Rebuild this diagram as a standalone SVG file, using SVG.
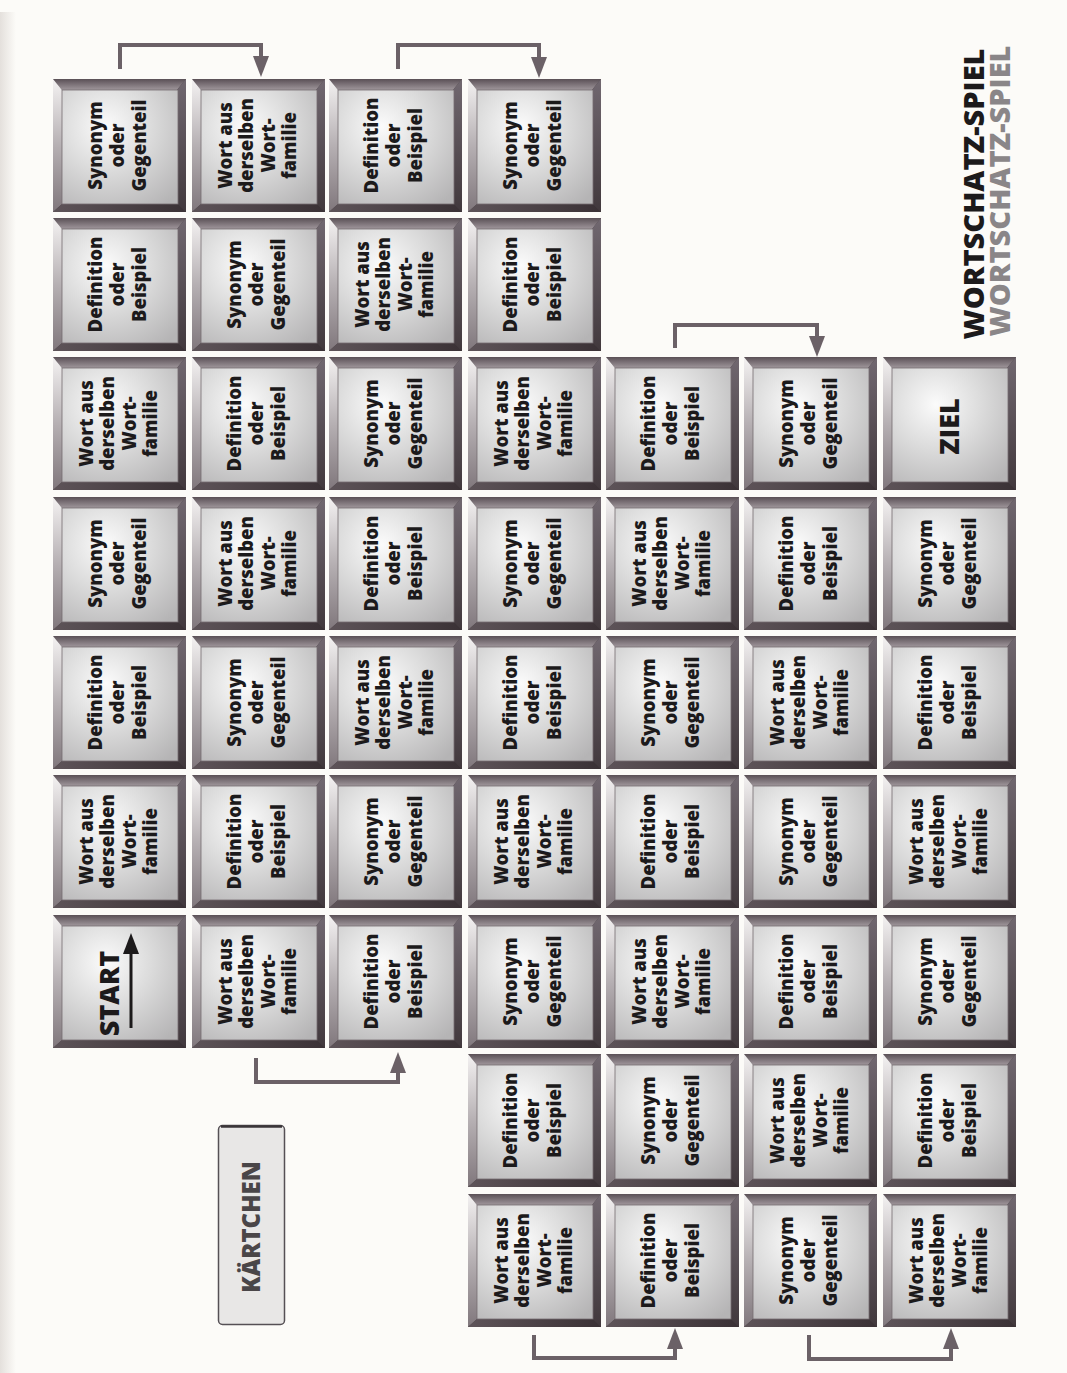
<svg xmlns="http://www.w3.org/2000/svg" xmlns:xlink="http://www.w3.org/1999/xlink" width="1067" height="1373" viewBox="0 0 1067 1373">
<style>
.t{font-family:"Open Sans","Noto Sans","DejaVu Sans",sans-serif;font-weight:800;font-size:18.5px;fill:#1c1a1b;text-anchor:middle}
.big{font-family:"Open Sans","Noto Sans","DejaVu Sans",sans-serif;font-weight:800;font-size:27px;fill:#1c1a1b;text-anchor:middle}
.title{font-family:"Open Sans","Noto Sans","DejaVu Sans",sans-serif;font-weight:800;font-size:29px;text-anchor:middle}
.conn{fill:none;stroke:#6b6167;stroke-width:4;stroke-linejoin:miter}
</style>
<defs>
<linearGradient id="gTop" x1="0" y1="0" x2="0" y2="1"><stop offset="0" stop-color="#5a5056"/><stop offset="1" stop-color="#a0979c"/></linearGradient>
<linearGradient id="gLeft" x1="0" y1="0" x2="0" y2="1"><stop offset="0" stop-color="#f4f2f2"/><stop offset="0.5" stop-color="#b6b0b3"/><stop offset="1" stop-color="#80777c"/></linearGradient>
<linearGradient id="gRight" x1="0" y1="0" x2="0" y2="1"><stop offset="0" stop-color="#716870"/><stop offset="1" stop-color="#41383c"/></linearGradient>
<linearGradient id="gBottom" x1="0" y1="0" x2="1" y2="0"><stop offset="0" stop-color="#5e5459"/><stop offset="1" stop-color="#3a3135"/></linearGradient>
<radialGradient id="gFace" cx="0.38" cy="0.32" r="0.85"><stop offset="0" stop-color="#fbfbfb"/><stop offset="0.45" stop-color="#dcdcdc"/><stop offset="1" stop-color="#b5b4b5"/></radialGradient>
<linearGradient id="gPage" x1="0" y1="0" x2="1" y2="0"><stop offset="0" stop-color="#e4e0dc"/><stop offset="1" stop-color="#fcfbf8"/></linearGradient>
<symbol id="tile" viewBox="0 0 133 133" width="133" height="133">
<rect width="133" height="133" fill="#4a4145"/>
<polygon points="0,0 133,0 124,11 9,11" fill="url(#gTop)"/>
<polygon points="0,0 9,11 9,125 0,133" fill="url(#gLeft)"/>
<polygon points="133,0 133,133 125,125 124,11" fill="url(#gRight)"/>
<polygon points="0,133 133,133 125,125 9,125" fill="url(#gBottom)"/>
<rect x="9" y="11" width="116" height="114" fill="url(#gFace)"/>
<rect x="9" y="11" width="116" height="114" fill="none" stroke="#756d71" stroke-width="0.8"/>
</symbol>
<marker id="ah" markerUnits="userSpaceOnUse" markerWidth="22" markerHeight="18" refX="0" refY="9" orient="auto" viewBox="0 0 22 18">
<path d="M0,1 L21,9 L0,17 z" fill="#6b6167"/>
</marker>
</defs>
<rect width="1067" height="1373" fill="#fcfbf8"/>
<rect x="0" y="12" width="16" height="1361" fill="url(#gPage)"/>

<g id="connectors">
<path class="conn" d="M120,69 V45 H261 V56" marker-end="url(#ah)"/>
<path class="conn" d="M398,69 V45 H539 V57" marker-end="url(#ah)"/>
<path class="conn" d="M675,348 V325 H817 V336" marker-end="url(#ah)"/>
<path class="conn" d="M256,1058 V1082 H398 V1073" marker-end="url(#ah)"/>
<path class="conn" d="M534,1335 V1358 H675 V1349" marker-end="url(#ah)"/>
<path class="conn" d="M809,1335 V1359 H951 V1349" marker-end="url(#ah)"/>
</g>

<!-- Column 1 -->
<g id="c1r1"><use href="#tile" x="53" y="79"/><text class="t" transform="translate(119.5,145.5) rotate(-90)"><tspan x="0" y="-18">Synonym</tspan><tspan x="0" y="4">oder</tspan><tspan x="0" y="26">Gegenteil</tspan></text></g>
<g id="c1r2"><use href="#tile" x="53" y="218"/><text class="t" transform="translate(119.5,284.5) rotate(-90)"><tspan x="0" y="-18">Definition</tspan><tspan x="0" y="4">oder</tspan><tspan x="0" y="26">Beispiel</tspan></text></g>
<g id="c1r3"><use href="#tile" x="53" y="357"/><text class="t" transform="translate(119.5,423.5) rotate(-90)"><tspan x="0" y="-27">Wort aus</tspan><tspan x="0" y="-5.5">derselben</tspan><tspan x="0" y="16">Wort-</tspan><tspan x="0" y="37.5">familie</tspan></text></g>
<g id="c1r4"><use href="#tile" x="53" y="497"/><text class="t" transform="translate(119.5,563.5) rotate(-90)"><tspan x="0" y="-18">Synonym</tspan><tspan x="0" y="4">oder</tspan><tspan x="0" y="26">Gegenteil</tspan></text></g>
<g id="c1r5"><use href="#tile" x="53" y="636"/><text class="t" transform="translate(119.5,702.5) rotate(-90)"><tspan x="0" y="-18">Definition</tspan><tspan x="0" y="4">oder</tspan><tspan x="0" y="26">Beispiel</tspan></text></g>
<g id="c1r6"><use href="#tile" x="53" y="775"/><text class="t" transform="translate(119.5,841.5) rotate(-90)"><tspan x="0" y="-27">Wort aus</tspan><tspan x="0" y="-5.5">derselben</tspan><tspan x="0" y="16">Wort-</tspan><tspan x="0" y="37.5">familie</tspan></text></g>
<g id="start"><use href="#tile" x="53" y="915"/><text class="big" transform="translate(119.5,981.5) rotate(-90)"><tspan x="-12" y="-1">START</tspan></text><line x1="131" y1="1028" x2="131" y2="952" stroke="#1c1a1b" stroke-width="3"/><polygon points="123,954 139,954 131,933" fill="#1c1a1b"/></g>

<!-- Column 2 -->
<g id="c2r1"><use href="#tile" x="192" y="79"/><text class="t" transform="translate(258.5,145.5) rotate(-90)"><tspan x="0" y="-27">Wort aus</tspan><tspan x="0" y="-5.5">derselben</tspan><tspan x="0" y="16">Wort-</tspan><tspan x="0" y="37.5">familie</tspan></text></g>
<g id="c2r2"><use href="#tile" x="192" y="218"/><text class="t" transform="translate(258.5,284.5) rotate(-90)"><tspan x="0" y="-18">Synonym</tspan><tspan x="0" y="4">oder</tspan><tspan x="0" y="26">Gegenteil</tspan></text></g>
<g id="c2r3"><use href="#tile" x="192" y="357"/><text class="t" transform="translate(258.5,423.5) rotate(-90)"><tspan x="0" y="-18">Definition</tspan><tspan x="0" y="4">oder</tspan><tspan x="0" y="26">Beispiel</tspan></text></g>
<g id="c2r4"><use href="#tile" x="192" y="497"/><text class="t" transform="translate(258.5,563.5) rotate(-90)"><tspan x="0" y="-27">Wort aus</tspan><tspan x="0" y="-5.5">derselben</tspan><tspan x="0" y="16">Wort-</tspan><tspan x="0" y="37.5">familie</tspan></text></g>
<g id="c2r5"><use href="#tile" x="192" y="636"/><text class="t" transform="translate(258.5,702.5) rotate(-90)"><tspan x="0" y="-18">Synonym</tspan><tspan x="0" y="4">oder</tspan><tspan x="0" y="26">Gegenteil</tspan></text></g>
<g id="c2r6"><use href="#tile" x="192" y="775"/><text class="t" transform="translate(258.5,841.5) rotate(-90)"><tspan x="0" y="-18">Definition</tspan><tspan x="0" y="4">oder</tspan><tspan x="0" y="26">Beispiel</tspan></text></g>
<g id="c2r7"><use href="#tile" x="192" y="915"/><text class="t" transform="translate(258.5,981.5) rotate(-90)"><tspan x="0" y="-27">Wort aus</tspan><tspan x="0" y="-5.5">derselben</tspan><tspan x="0" y="16">Wort-</tspan><tspan x="0" y="37.5">familie</tspan></text></g>

<!-- Column 3 -->
<g id="c3r1"><use href="#tile" x="329" y="79"/><text class="t" transform="translate(395.5,145.5) rotate(-90)"><tspan x="0" y="-18">Definition</tspan><tspan x="0" y="4">oder</tspan><tspan x="0" y="26">Beispiel</tspan></text></g>
<g id="c3r2"><use href="#tile" x="329" y="218"/><text class="t" transform="translate(395.5,284.5) rotate(-90)"><tspan x="0" y="-27">Wort aus</tspan><tspan x="0" y="-5.5">derselben</tspan><tspan x="0" y="16">Wort-</tspan><tspan x="0" y="37.5">familie</tspan></text></g>
<g id="c3r3"><use href="#tile" x="329" y="357"/><text class="t" transform="translate(395.5,423.5) rotate(-90)"><tspan x="0" y="-18">Synonym</tspan><tspan x="0" y="4">oder</tspan><tspan x="0" y="26">Gegenteil</tspan></text></g>
<g id="c3r4"><use href="#tile" x="329" y="497"/><text class="t" transform="translate(395.5,563.5) rotate(-90)"><tspan x="0" y="-18">Definition</tspan><tspan x="0" y="4">oder</tspan><tspan x="0" y="26">Beispiel</tspan></text></g>
<g id="c3r5"><use href="#tile" x="329" y="636"/><text class="t" transform="translate(395.5,702.5) rotate(-90)"><tspan x="0" y="-27">Wort aus</tspan><tspan x="0" y="-5.5">derselben</tspan><tspan x="0" y="16">Wort-</tspan><tspan x="0" y="37.5">familie</tspan></text></g>
<g id="c3r6"><use href="#tile" x="329" y="775"/><text class="t" transform="translate(395.5,841.5) rotate(-90)"><tspan x="0" y="-18">Synonym</tspan><tspan x="0" y="4">oder</tspan><tspan x="0" y="26">Gegenteil</tspan></text></g>
<g id="c3r7"><use href="#tile" x="329" y="915"/><text class="t" transform="translate(395.5,981.5) rotate(-90)"><tspan x="0" y="-18">Definition</tspan><tspan x="0" y="4">oder</tspan><tspan x="0" y="26">Beispiel</tspan></text></g>

<!-- Column 4 -->
<g id="c4r1"><use href="#tile" x="468" y="79"/><text class="t" transform="translate(534.5,145.5) rotate(-90)"><tspan x="0" y="-18">Synonym</tspan><tspan x="0" y="4">oder</tspan><tspan x="0" y="26">Gegenteil</tspan></text></g>
<g id="c4r2"><use href="#tile" x="468" y="218"/><text class="t" transform="translate(534.5,284.5) rotate(-90)"><tspan x="0" y="-18">Definition</tspan><tspan x="0" y="4">oder</tspan><tspan x="0" y="26">Beispiel</tspan></text></g>
<g id="c4r3"><use href="#tile" x="468" y="357"/><text class="t" transform="translate(534.5,423.5) rotate(-90)"><tspan x="0" y="-27">Wort aus</tspan><tspan x="0" y="-5.5">derselben</tspan><tspan x="0" y="16">Wort-</tspan><tspan x="0" y="37.5">familie</tspan></text></g>
<g id="c4r4"><use href="#tile" x="468" y="497"/><text class="t" transform="translate(534.5,563.5) rotate(-90)"><tspan x="0" y="-18">Synonym</tspan><tspan x="0" y="4">oder</tspan><tspan x="0" y="26">Gegenteil</tspan></text></g>
<g id="c4r5"><use href="#tile" x="468" y="636"/><text class="t" transform="translate(534.5,702.5) rotate(-90)"><tspan x="0" y="-18">Definition</tspan><tspan x="0" y="4">oder</tspan><tspan x="0" y="26">Beispiel</tspan></text></g>
<g id="c4r6"><use href="#tile" x="468" y="775"/><text class="t" transform="translate(534.5,841.5) rotate(-90)"><tspan x="0" y="-27">Wort aus</tspan><tspan x="0" y="-5.5">derselben</tspan><tspan x="0" y="16">Wort-</tspan><tspan x="0" y="37.5">familie</tspan></text></g>
<g id="c4r7"><use href="#tile" x="468" y="915"/><text class="t" transform="translate(534.5,981.5) rotate(-90)"><tspan x="0" y="-18">Synonym</tspan><tspan x="0" y="4">oder</tspan><tspan x="0" y="26">Gegenteil</tspan></text></g>
<g id="c4r8"><use href="#tile" x="468" y="1054"/><text class="t" transform="translate(534.5,1120.5) rotate(-90)"><tspan x="0" y="-18">Definition</tspan><tspan x="0" y="4">oder</tspan><tspan x="0" y="26">Beispiel</tspan></text></g>
<g id="c4r9"><use href="#tile" x="468" y="1194"/><text class="t" transform="translate(534.5,1260.5) rotate(-90)"><tspan x="0" y="-27">Wort aus</tspan><tspan x="0" y="-5.5">derselben</tspan><tspan x="0" y="16">Wort-</tspan><tspan x="0" y="37.5">familie</tspan></text></g>

<!-- Column 5 -->
<g id="c5r3"><use href="#tile" x="606" y="357"/><text class="t" transform="translate(672.5,423.5) rotate(-90)"><tspan x="0" y="-18">Definition</tspan><tspan x="0" y="4">oder</tspan><tspan x="0" y="26">Beispiel</tspan></text></g>
<g id="c5r4"><use href="#tile" x="606" y="497"/><text class="t" transform="translate(672.5,563.5) rotate(-90)"><tspan x="0" y="-27">Wort aus</tspan><tspan x="0" y="-5.5">derselben</tspan><tspan x="0" y="16">Wort-</tspan><tspan x="0" y="37.5">familie</tspan></text></g>
<g id="c5r5"><use href="#tile" x="606" y="636"/><text class="t" transform="translate(672.5,702.5) rotate(-90)"><tspan x="0" y="-18">Synonym</tspan><tspan x="0" y="4">oder</tspan><tspan x="0" y="26">Gegenteil</tspan></text></g>
<g id="c5r6"><use href="#tile" x="606" y="775"/><text class="t" transform="translate(672.5,841.5) rotate(-90)"><tspan x="0" y="-18">Definition</tspan><tspan x="0" y="4">oder</tspan><tspan x="0" y="26">Beispiel</tspan></text></g>
<g id="c5r7"><use href="#tile" x="606" y="915"/><text class="t" transform="translate(672.5,981.5) rotate(-90)"><tspan x="0" y="-27">Wort aus</tspan><tspan x="0" y="-5.5">derselben</tspan><tspan x="0" y="16">Wort-</tspan><tspan x="0" y="37.5">familie</tspan></text></g>
<g id="c5r8"><use href="#tile" x="606" y="1054"/><text class="t" transform="translate(672.5,1120.5) rotate(-90)"><tspan x="0" y="-18">Synonym</tspan><tspan x="0" y="4">oder</tspan><tspan x="0" y="26">Gegenteil</tspan></text></g>
<g id="c5r9"><use href="#tile" x="606" y="1194"/><text class="t" transform="translate(672.5,1260.5) rotate(-90)"><tspan x="0" y="-18">Definition</tspan><tspan x="0" y="4">oder</tspan><tspan x="0" y="26">Beispiel</tspan></text></g>

<!-- Column 6 -->
<g id="c6r3"><use href="#tile" x="744" y="357"/><text class="t" transform="translate(810.5,423.5) rotate(-90)"><tspan x="0" y="-18">Synonym</tspan><tspan x="0" y="4">oder</tspan><tspan x="0" y="26">Gegenteil</tspan></text></g>
<g id="c6r4"><use href="#tile" x="744" y="497"/><text class="t" transform="translate(810.5,563.5) rotate(-90)"><tspan x="0" y="-18">Definition</tspan><tspan x="0" y="4">oder</tspan><tspan x="0" y="26">Beispiel</tspan></text></g>
<g id="c6r5"><use href="#tile" x="744" y="636"/><text class="t" transform="translate(810.5,702.5) rotate(-90)"><tspan x="0" y="-27">Wort aus</tspan><tspan x="0" y="-5.5">derselben</tspan><tspan x="0" y="16">Wort-</tspan><tspan x="0" y="37.5">familie</tspan></text></g>
<g id="c6r6"><use href="#tile" x="744" y="775"/><text class="t" transform="translate(810.5,841.5) rotate(-90)"><tspan x="0" y="-18">Synonym</tspan><tspan x="0" y="4">oder</tspan><tspan x="0" y="26">Gegenteil</tspan></text></g>
<g id="c6r7"><use href="#tile" x="744" y="915"/><text class="t" transform="translate(810.5,981.5) rotate(-90)"><tspan x="0" y="-18">Definition</tspan><tspan x="0" y="4">oder</tspan><tspan x="0" y="26">Beispiel</tspan></text></g>
<g id="c6r8"><use href="#tile" x="744" y="1054"/><text class="t" transform="translate(810.5,1120.5) rotate(-90)"><tspan x="0" y="-27">Wort aus</tspan><tspan x="0" y="-5.5">derselben</tspan><tspan x="0" y="16">Wort-</tspan><tspan x="0" y="37.5">familie</tspan></text></g>
<g id="c6r9"><use href="#tile" x="744" y="1194"/><text class="t" transform="translate(810.5,1260.5) rotate(-90)"><tspan x="0" y="-18">Synonym</tspan><tspan x="0" y="4">oder</tspan><tspan x="0" y="26">Gegenteil</tspan></text></g>

<!-- Column 7 -->
<g id="ziel"><use href="#tile" x="883" y="357"/><text class="big" transform="translate(949.5,423.5) rotate(-90)"><tspan x="-3" y="9">ZIEL</tspan></text></g>
<g id="c7r4"><use href="#tile" x="883" y="497"/><text class="t" transform="translate(949.5,563.5) rotate(-90)"><tspan x="0" y="-18">Synonym</tspan><tspan x="0" y="4">oder</tspan><tspan x="0" y="26">Gegenteil</tspan></text></g>
<g id="c7r5"><use href="#tile" x="883" y="636"/><text class="t" transform="translate(949.5,702.5) rotate(-90)"><tspan x="0" y="-18">Definition</tspan><tspan x="0" y="4">oder</tspan><tspan x="0" y="26">Beispiel</tspan></text></g>
<g id="c7r6"><use href="#tile" x="883" y="775"/><text class="t" transform="translate(949.5,841.5) rotate(-90)"><tspan x="0" y="-27">Wort aus</tspan><tspan x="0" y="-5.5">derselben</tspan><tspan x="0" y="16">Wort-</tspan><tspan x="0" y="37.5">familie</tspan></text></g>
<g id="c7r7"><use href="#tile" x="883" y="915"/><text class="t" transform="translate(949.5,981.5) rotate(-90)"><tspan x="0" y="-18">Synonym</tspan><tspan x="0" y="4">oder</tspan><tspan x="0" y="26">Gegenteil</tspan></text></g>
<g id="c7r8"><use href="#tile" x="883" y="1054"/><text class="t" transform="translate(949.5,1120.5) rotate(-90)"><tspan x="0" y="-18">Definition</tspan><tspan x="0" y="4">oder</tspan><tspan x="0" y="26">Beispiel</tspan></text></g>
<g id="c7r9"><use href="#tile" x="883" y="1194"/><text class="t" transform="translate(949.5,1260.5) rotate(-90)"><tspan x="0" y="-27">Wort aus</tspan><tspan x="0" y="-5.5">derselben</tspan><tspan x="0" y="16">Wort-</tspan><tspan x="0" y="37.5">familie</tspan></text></g>

<!-- Kärtchen -->
<g id="kaertchen">
<rect x="218.5" y="1125.5" width="66" height="199" rx="4" fill="#e8e7e6" stroke="#555055" stroke-width="1.5"/>
<line x1="221" y1="1126.5" x2="282" y2="1126.5" stroke="#3a3538" stroke-width="2.5"/>
<text class="big" style="font-size:24px;fill:#4a4648" transform="translate(251,1227) rotate(-90)"><tspan x="0" y="9">KÄRTCHEN</tspan></text>
</g>

<!-- Title -->
<g id="title">
<text class="title" fill="#8a8688" transform="translate(999,191) rotate(-90)"><tspan x="0" y="10.5">WORTSCHATZ-SPIEL</tspan></text>
<text class="title" fill="#1c1a1b" transform="translate(973,194) rotate(-90)"><tspan x="0" y="10.5">WORTSCHATZ-SPIEL</tspan></text>
</g>
</svg>
